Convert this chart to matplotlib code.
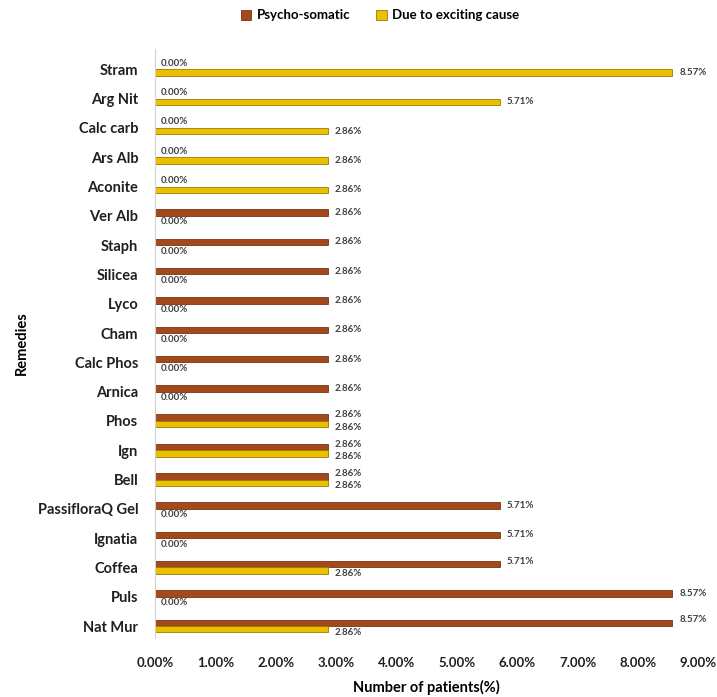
import numpy as np
import matplotlib.pyplot as plt
from matplotlib.ticker import FuncFormatter

plt.rcParams['font.family'] = ['Lato', 'DejaVu Sans']

remedies = ['Stram', 'Arg Nit', 'Calc carb', 'Ars Alb', 'Aconite', 'Ver Alb', 'Staph',
            'Silicea', 'Lyco', 'Cham', 'Calc Phos', 'Arnica', 'Phos', 'Ign', 'Bell',
            'PassifloraQ Gel', 'Ignatia', 'Coffea', 'Puls', 'Nat Mur']
psycho = [0, 0, 0, 0, 0, 2.86, 2.86, 2.86, 2.86, 2.86, 2.86, 2.86, 2.86, 2.86, 2.86,
          5.71, 5.71, 5.71, 8.57, 8.57]
exciting = [8.57, 5.71, 2.86, 2.86, 2.86, 0, 0, 0, 0, 0, 0, 0, 2.86, 2.86, 2.86,
            0, 0, 2.86, 0, 2.86]
xticks = np.arange(0, 10, 1)

brown = '#A34A1C'
yellow = '#EBC000'

fig = plt.figure(figsize=(7.17, 6.97), dpi=100)
ax = fig.add_axes([0.216, 0.085, 0.758, 0.845])

n = len(remedies)
y = np.arange(n)[::-1]
h = 0.22
off = 0.11

ax.barh(y + off, psycho, height=h, color=brown, edgecolor='#7A3210', linewidth=0.6,
        label='Psycho-somatic')
ax.barh(y - off, exciting, height=h, color=yellow, edgecolor='#9A7A00', linewidth=0.6,
        label='Due to exciting cause')

for yi, p, e in zip(y, psycho, exciting):
    both = p > 0 and e > 0
    dy_p = 0.1 if (p == 0 or both) else 0
    dy_e = 0.1 if (e == 0 or both) else 0
    ax.text(p + 0.12 if p > 0 else 0.1, yi + off + dy_p, f'{p:.2f}%',
            fontsize=7, color='#404040', va='center', ha='left', fontweight='bold')
    ax.text(e + 0.12 if e > 0 else 0.1, yi - off - dy_e, f'{e:.2f}%',
            fontsize=7, color='#404040', va='center', ha='left', fontweight='bold')

ax.set_xlim(0, 9)
ax.set_ylim(-0.4, n - 0.3)
ax.set_xticks(xticks)
ax.xaxis.set_major_formatter(FuncFormatter(lambda v, _: f'{v:.2f}%'))
ax.set_yticks(y)
ax.set_yticklabels(remedies)
ax.tick_params(axis='x', length=0, labelsize=9.5, colors='#202020', pad=14)
ax.tick_params(axis='y', length=0, labelsize=10.5, colors='#202020', pad=12)
for lbl in ax.get_xticklabels() + ax.get_yticklabels():
    lbl.set_fontweight('bold')

for s in ['top', 'right', 'bottom']:
    ax.spines[s].set_visible(False)
ax.spines['left'].set_color('#D0D0D0')

ax.set_xlabel('Number of patients(%)', fontsize=10.5, fontweight='bold', labelpad=8)
ax.set_ylabel('Remedies', fontsize=10.5, fontweight='bold', labelpad=6)

fig.legend(loc='center', bbox_to_anchor=(0.53, 0.978), ncol=2, frameon=False,
           handlelength=0.8, handleheight=0.8, columnspacing=2.0,
           handletextpad=0.4, prop={'weight': 'bold', 'size': 9.5})

fig.savefig('out.png', dpi=100)
